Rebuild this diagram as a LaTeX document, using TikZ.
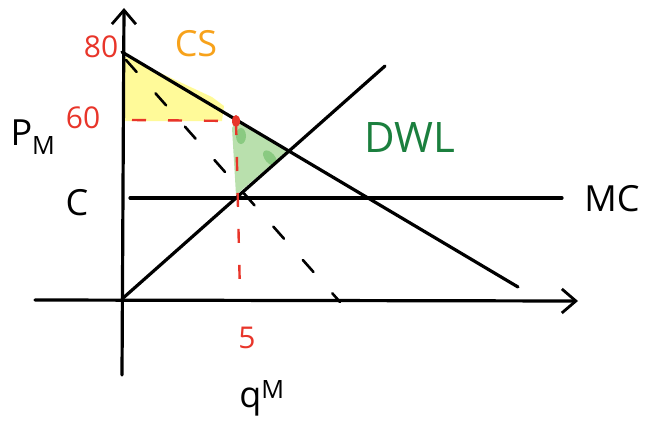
\documentclass[tikz,border=0pt]{standalone}
\usepackage{fontspec}
\setmainfont{Open Sans}
\usetikzlibrary{arrows.meta}
\definecolor{penred}{HTML}{E8352A}
\definecolor{penorange}{HTML}{F7A21B}
\definecolor{pengreen}{HTML}{1B7F3E}
\definecolor{csyellow}{HTML}{FFFA99}
\definecolor{dwlgreen}{HTML}{B9E0AD}
\tikzset{
  curve/.style   = {line width=3.2pt, line cap=round},
  axis/.style    = {curve, -{Straight Barb[length=14pt, width=24pt, line width=2.8pt]}},
  guide/.style   = {penred, line width=2.4pt, dash pattern=on 14pt off 22pt},
  mrcurve/.style = {line width=2.6pt, line cap=round, dash pattern=on 16pt off 28.5pt},
  lbl/.style     = {inner sep=0pt, font=\fontsize{30}{30}\selectfont},
  big/.style     = {lbl, font=\fontsize{36}{36}\selectfont},
}

\begin{document}
\begin{tikzpicture}[x=1pt, y=-1pt]
  \useasboundingbox (0,0) rectangle (649,431);

  % ── key points ─────────────────────────────────────────────────────────────
  \coordinate (o)      at (122,299);
  \coordinate (ybot)   at (122,375);
  \coordinate (ytop)   at (124,8);
  \coordinate (xleft)  at (35,300);
  \coordinate (xright) at (578,301);
  \coordinate (dtop)   at (122,52);
  \coordinate (dend)   at (518,287);
  \coordinate (mcl)    at (130,198);
  \coordinate (mcr)    at (562,198);
  \coordinate (send)   at (385,66);
  \coordinate (pm)     at (236,121);
  \coordinate (cm)     at (237,197);
  \coordinate (eq)     at (287,151);
  \coordinate (pmax)   at (132,120);
  \coordinate (qmax)   at (240,295);
  \coordinate (mrtop)  at (126,60);
  \coordinate (mrend)  at (340,302);

  % ── shaded areas ───────────────────────────────────────────────────────────
  \fill[csyellow] (124,56) -- (124,121) -- (222,121) -- (224,106) -- (212,97) -- cycle;
  \fill[dwlgreen] (pm) -- (232,128) -- (236,195) -- (eq) -- cycle;
  \fill[green!55!black, opacity=0.25] (241,136) ellipse (5pt and 8pt);
  \fill[green!55!black, opacity=0.25, rotate around={40:(270,158)}] (270,158) ellipse (5pt and 9pt);

  % ── axes ───────────────────────────────────────────────────────────────────
  \draw[axis] (ybot) -- (ytop);
  \draw[axis] (xleft) -- (xright);

  % ── curves ─────────────────────────────────────────────────────────────────
  \draw[curve] (dtop) -- (dend);
  \draw[curve] (mcl) -- (mcr);
  \draw[curve] (o) -- (send);
  \draw[mrcurve] (mrtop) -- (mrend);

  % ── monopoly point ─────────────────────────────────────────────────────────
  \draw[guide] (pmax) -- (pm);
  \draw[guide] (pm) -- (qmax);
  \fill[penred] (pm) ellipse (4pt and 6pt);

  % ── labels ─────────────────────────────────────────────────────────────────
  \node[lbl, penred]    (l80)  at (101,47)  {80};
  \node[lbl, penred]    (l60)  at (83,118)  {60};
  \node[big, penorange] (lcs)  at (196,44)  {CS};
  \node[big]            (lpm)  at (33,137)  {P\textsubscript{M}};
  \node[big]            (lc)   at (77,203)  {C};
  \node[big]            (lmc)  at (612,199) {MC};
  \node[big, pengreen, font=\fontsize{42}{42}\selectfont] (ldwl) at (410,138) {DWL};
  \node[lbl, penred]    (l5)   at (247,338) {5};
  \node[big]            (lqm)  at (262,398) {q\textsuperscript{M}};

\end{tikzpicture}
\end{document}
